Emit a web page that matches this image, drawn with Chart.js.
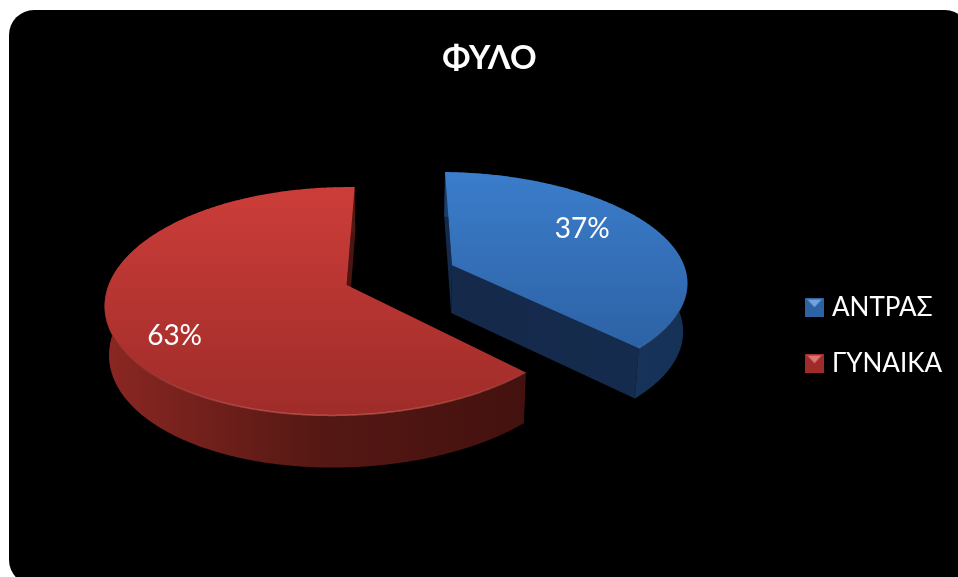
<!DOCTYPE html>
<html lang="el">
<head>
<meta charset="utf-8">
<title>ΦΥΛΟ</title>
<script src="https://cdn.jsdelivr.net/npm/chart.js@4"></script>
<style>
    html, body { margin: 0; height: 100%; background: #fff; overflow: hidden; }
    #wrap { position: absolute; left: 9px; top: 10px; width: 961px; height: 575px; background: #000; border-radius: 25px; overflow: hidden; }
    canvas { display: block; }
</style>
</head>
<body>
<div id="wrap"><canvas id="genderChart" width="961" height="575"></canvas></div>
<script>
const titleText = 'ΦΥΛΟ';
const categories = ['ΑΝΤΡΑΣ', 'ΓΥΝΑΙΚΑ'];
const percentValues = [37, 63];

const FONT = 'Lato, "Liberation Sans", sans-serif';

// Colours per slice: top surface gradient, outer wall stops, cut face
const sliceStyles = [
    { top: ['#3b7dcb', '#2d62a5'], wall: ['#1b3d6a', '#18355e', '#163156'], cut: ['#15294a', '#152b4d'], rim: 'rgba(120,170,230,0.3)', labelRadius: 0.715 },
    { top: ['#cc3d39', '#9f2c29'], wall: ['#8b2722', '#561814', '#43110e'], cut: ['#4a1412', '#4a1412'], rim: 'rgba(240,120,110,0.5)', labelRadius: 0.78 }
];

// Camera used to lay the flat pie on its side
const view = { x: 391, y: 265, a: 235, b: 109, k: 0.141, bend: 5, depth: 48, shrink: 0.015 };
const LABEL_TURN = -10 * Math.PI / 180;

function project(U, V, z) {
    const w = 1 - view.k * V;
    return {
        x: view.x + (view.a * U / w) * (1 - view.shrink * z) - view.bend * V * V,
        y: view.y + view.b * V / w + z * view.depth / Math.sqrt(w)
    };
}

function arcPoints(cx, cy, from, to, z) {
    const pts = [];
    const steps = Math.max(2, Math.ceil(Math.abs(to - from) / 0.01));
    for (let i = 0; i <= steps; i++) {
        const t = from + (to - from) * i / steps;
        pts.push(project(cx + Math.cos(t), cy + Math.sin(t), z));
    }
    return pts;
}

function tracePoly(ctx, pts) {
    ctx.beginPath();
    pts.forEach((p, i) => (i ? ctx.lineTo(p.x, p.y) : ctx.moveTo(p.x, p.y)));
    ctx.closePath();
}

function boundsOf(pts) {
    const xs = pts.map(p => p.x), ys = pts.map(p => p.y);
    return { x0: Math.min(...xs), x1: Math.max(...xs), y0: Math.min(...ys), y1: Math.max(...ys) };
}

function drawCut(ctx, cx, cy, angle, style) {
    const pts = [
        project(cx, cy, 0),
        project(cx + Math.cos(angle), cy + Math.sin(angle), 0),
        project(cx + Math.cos(angle), cy + Math.sin(angle), 1),
        project(cx, cy, 1)
    ];
    const b = boundsOf(pts);
    const g = ctx.createLinearGradient(b.x0, 0, b.x1 + 1, 0);
    g.addColorStop(0, style.cut[0]);
    g.addColorStop(1, style.cut[1]);
    ctx.fillStyle = g;
    tracePoly(ctx, pts);
    ctx.fill();
}

function drawSlice(ctx, arc, style) {
    const { startAngle, endAngle, outerRadius } = arc.getProps(['startAngle', 'endAngle', 'outerRadius'], true);
    const mid = (startAngle + endAngle) / 2;
    const d = arc.options.offset / outerRadius;
    const cx = d * Math.cos(mid);
    const cy = d * Math.sin(mid);

    drawCut(ctx, cx, cy, startAngle, style);
    drawCut(ctx, cx, cy, endAngle, style);

    // outer wall
    const rimTop = arcPoints(cx, cy, startAngle, endAngle, 0);
    const rimBottom = arcPoints(cx, cy, startAngle, endAngle, 1).reverse();
    const wall = rimTop.concat(rimBottom);
    const wb = boundsOf(wall);
    const wg = ctx.createLinearGradient(wb.x0, 0, wb.x1, 0);
    style.wall.forEach((c, i) => wg.addColorStop(i / (style.wall.length - 1), c));
    ctx.fillStyle = wg;
    tracePoly(ctx, wall);
    ctx.fill();

    // top surface
    const top = [project(cx, cy, 0)].concat(rimTop);
    const tb = boundsOf(top);
    const tg = ctx.createLinearGradient(0, tb.y0, 0, tb.y1);
    tg.addColorStop(0, style.top[0]);
    tg.addColorStop(1, style.top[1]);
    ctx.fillStyle = tg;
    tracePoly(ctx, top);
    ctx.fill();

    // soft bevel on the rim, fading out towards the back edge
    const rg = ctx.createLinearGradient(0, view.y, 0, tb.y1);
    rg.addColorStop(0, 'rgba(0,0,0,0)');
    rg.addColorStop(1, style.rim);
    ctx.strokeStyle = rg;
    ctx.lineWidth = 1.5;
    ctx.beginPath();
    rimTop.forEach((p, i) => (i ? ctx.lineTo(p.x, p.y) : ctx.moveTo(p.x, p.y)));
    ctx.stroke();

    return { cx, cy, mid };
}

const pie3d = {
    id: 'pie3d',
    // Takes over the arcs: angles come from the pie controller, the shape from project()
    beforeDatasetsDraw(chart) {
        const ctx = chart.ctx;
        const arcs = chart.getDatasetMeta(0).data;
        const placed = arcs.map((arc, i) => drawSlice(ctx, arc, sliceStyles[i]));

        ctx.save();
        ctx.fillStyle = '#fff';
        ctx.font = '28px ' + FONT;
        ctx.textAlign = 'center';
        ctx.textBaseline = 'middle';
        placed.forEach((p, i) => {
            const t = p.mid + LABEL_TURN;
            const r = sliceStyles[i].labelRadius;
            const pos = project(p.cx + r * Math.cos(t), p.cy + r * Math.sin(t), 0);
            ctx.fillText(percentValues[i] + '%', pos.x, pos.y + 2);
        });
        ctx.restore();
        return false;
    }
};

function makeSwatch(style) {
    const c = document.createElement('canvas');
    c.width = 19;
    c.height = 19;
    const g = c.getContext('2d');
    g.fillStyle = style.top[1];
    g.fillRect(0, 0, 19, 19);
    g.fillStyle = style.top[0];
    g.beginPath();
    g.moveTo(1, 1);
    g.lineTo(18, 1);
    g.lineTo(9.5, 10);
    g.closePath();
    g.fill();
    g.fillStyle = 'rgba(255,255,255,0.3)';
    g.beginPath();
    g.moveTo(3, 2);
    g.lineTo(16, 2);
    g.lineTo(9.5, 9);
    g.closePath();
    g.fill();
    return c;
}

new Chart(document.getElementById('genderChart'), {
    type: 'pie',
    data: {
        labels: categories,
        datasets: [{
            data: percentValues,
            backgroundColor: ['#2f6bb5', '#b23330'],
            borderWidth: 0,
            offset: 53.8
        }]
    },
    plugins: [pie3d],
    options: {
        responsive: false,
        animation: false,
        rotation: 1.5,
        layout: { padding: { left: 18, right: 18 } },
        plugins: {
            tooltip: { enabled: false },
            title: {
                display: true,
                text: titleText,
                color: '#fff',
                font: { family: FONT, size: 33, weight: 'bold' },
                padding: { top: 29, bottom: 7 }
            },
            legend: {
                position: 'right',
                fullSize: false,
                labels: {
                    color: '#fff',
                    font: { family: FONT, size: 26 },
                    usePointStyle: true,
                    pointStyleWidth: 9,
                    padding: 30,
                    generateLabels: () => categories.map((name, i) => ({
                        text: name,
                        fontColor: '#fff',
                        pointStyle: makeSwatch(sliceStyles[i]),
                        datasetIndex: 0,
                        index: i
                    }))
                }
            }
        }
    }
});
</script>
</body>
</html>
